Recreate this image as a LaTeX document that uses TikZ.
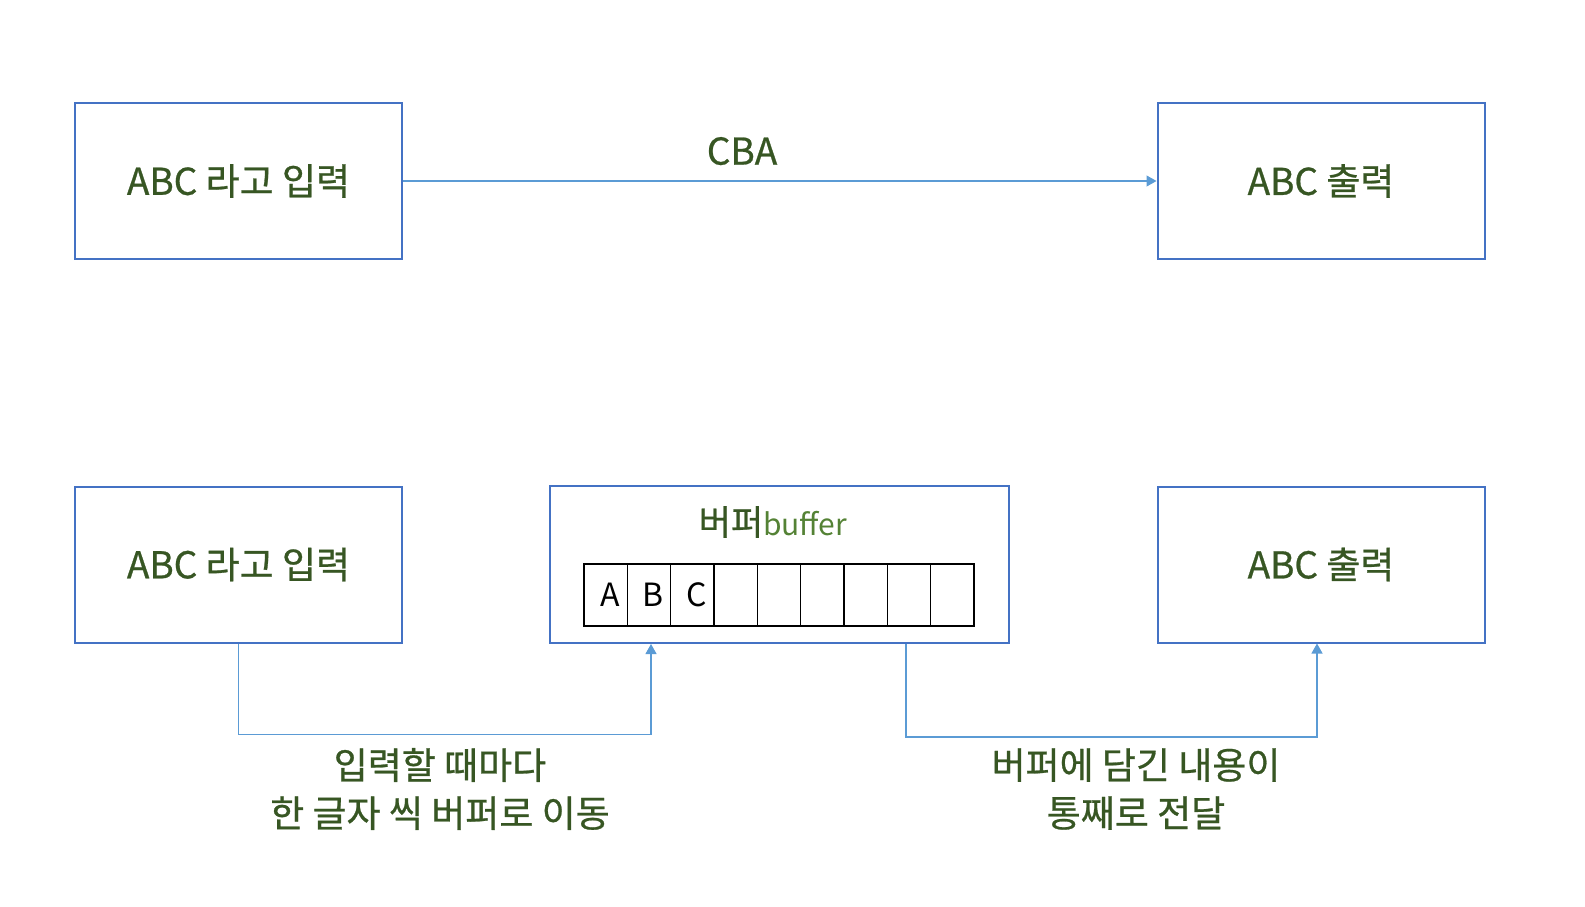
\documentclass[tikz,border=0pt]{standalone}
\usepackage{fontspec}
\setmainfont[FakeBold=0.7]{Noto Sans CJK KR}
\newfontfamily\plainfont{Noto Sans CJK KR}
\usepackage{tikz}
\usetikzlibrary{arrows.meta,positioning}
\definecolor{boxblue}{HTML}{4472C4}
\definecolor{lineblue}{HTML}{5B9BD5}
\definecolor{textgreen}{HTML}{375623}
\definecolor{bufgreen}{HTML}{548235}
\newcommand{\labelsize}{\fontsize{37}{48}\selectfont}
\tikzstyle{stage} = [draw=boxblue, line width=2pt, rectangle, minimum width=327pt, minimum height=156pt, text=textgreen, font=\labelsize]
\tikzstyle{bufbox} = [draw=boxblue, line width=2pt, rectangle, minimum width=459pt, minimum height=157pt]
\tikzstyle{cell} = [draw=black, line width=1.6pt, rectangle, minimum width=43.3pt, minimum height=62pt, inner sep=0pt, font=\plainfont\fontsize{32}{32}\selectfont]
\tikzstyle{flow} = [draw=lineblue, line width=1.1pt, -{Triangle[width=11pt,length=10pt]}]
\tikzstyle{note} = [text=textgreen, font=\labelsize, align=center]

\begin{document}
\begin{tikzpicture}[x=1pt,y=-1pt]
					\useasboundingbox (0,0) rectangle (1585,907);
					\node [stage] (in1) at (238.5,181) {ABC 라고 입력};
					\node [stage] (out1) at (1321,181) {ABC 출력};
					\draw [flow] (in1.east) -- (out1.west) node[note, pos=0.45, above=12pt] (cba) {CBA};
					\node [stage] (in2) at (238.5,564.5) {ABC 라고 입력};
					\node [bufbox] (buf) at (779.5,564.5) {};
					\node [stage] (out2) at (1321,564.5) {ABC 출력};
					\node [text=textgreen, font=\fontsize{35}{38}\selectfont] (buftitle) at (773,522) {버퍼{\plainfont\fontsize{30}{32}\selectfont\color{bufgreen}buffer}};
					\foreach \i in {1,...,9}
						\node [cell] (cell\i) at (584+43.33*\i-21.67,595) {\ifcase\i\or\hspace*{9pt}A\or\hspace*{9pt}B\or\hspace*{9pt}C\fi};
					\draw [flow] (in2.south) -- ++(0,91) -| ([xshift=-128.5pt]buf.south);
					\draw [flow] ([xshift=126.5pt]buf.south) -- ++(0,93) -| ([xshift=-4pt]out2.south);
					\node [note] (move) at (440,789) {입력할 때마다\\한 글자 씩 버퍼로 이동};
					\node [note] (send) at (1136,789) {버퍼에 담긴 내용이\\통째로 전달};
\end{tikzpicture}
\end{document}
